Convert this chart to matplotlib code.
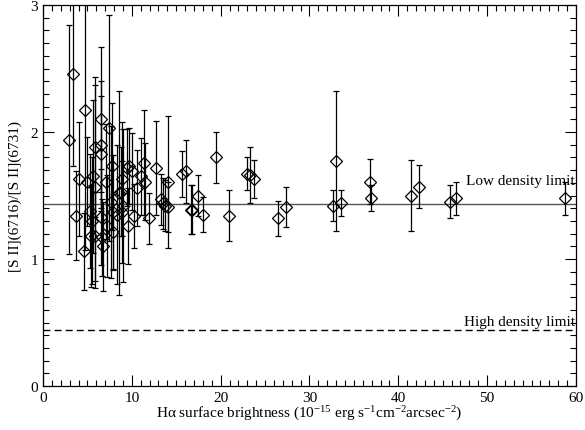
import matplotlib
matplotlib.use("Agg")
import matplotlib.pyplot as plt
from matplotlib.ticker import MultipleLocator

plt.rcParams['font.family'] = 'Liberation Serif'
plt.rcParams['mathtext.fontset'] = 'custom'
plt.rcParams['mathtext.rm'] = 'Liberation Serif'
plt.rcParams['mathtext.default'] = 'rm'

# Halpha surface brightness, [SII] ratio and its error
sb = [2.93, 3.41, 3.68, 4.09, 4.58, 4.69, 5.00, 5.29, 5.37, 5.55,
      5.67, 5.82, 5.89, 5.89, 6.49, 6.49, 6.49, 6.49, 6.60, 6.79,
      7.09, 7.17, 7.47, 7.62, 7.73, 7.84, 7.92, 8.29, 8.59, 8.78,
      8.93, 8.93, 9.04, 9.42, 9.53, 9.68, 9.98, 10.24, 10.54, 11.03,
      11.41, 11.48, 11.97, 12.69, 13.28, 13.47, 13.73, 14.11, 14.11, 15.6,
      16.06, 16.66, 16.8, 17.49, 18.05, 19.44, 20.98, 23.0, 23.3, 23.8,
      26.5, 27.4, 32.7, 33.0, 33.6, 36.8, 36.9, 41.4, 42.3, 45.8,
      46.5, 58.8]
ratio = [1.94, 2.46, 1.34, 1.63, 1.06, 2.17, 1.61, 1.38, 1.18, 1.30,
         1.65, 1.88, 1.57, 1.18, 2.10, 1.90, 1.83, 1.33, 1.17, 1.10,
         1.61, 1.26, 2.03, 1.45, 1.73, 1.37, 1.21, 1.35, 1.52, 1.53,
         1.63, 1.37, 1.42, 1.72, 1.26, 1.73, 1.69, 1.34, 1.56, 1.65,
         1.76, 1.61, 1.32, 1.72, 1.47, 1.44, 1.42, 1.41, 1.61, 1.67,
         1.69, 1.39, 1.39, 1.50, 1.35, 1.80, 1.34, 1.67, 1.66, 1.63,
         1.32, 1.41, 1.42, 1.77, 1.44, 1.61, 1.48, 1.50, 1.57, 1.45,
         1.48, 1.48]
err = [0.90, 0.73, 0.35, 0.45, 0.30, 1.10, 0.35, 0.45, 0.40, 0.50,
       0.60, 0.55, 0.80, 0.35, 0.57, 0.50, 0.45, 0.38, 0.30, 0.35,
       0.45, 0.40, 0.89, 0.60, 0.50, 0.45, 0.30, 0.55, 0.80, 0.35,
       0.45, 0.40, 0.60, 0.30, 0.30, 0.30, 0.30, 0.25, 0.30, 0.30,
       0.41, 0.30, 0.20, 0.37, 0.20, 0.20, 0.20, 0.20, 0.52, 0.18,
       0.25, 0.19, 0.19, 0.16, 0.14, 0.20, 0.20, 0.13, 0.22, 0.15,
       0.14, 0.16, 0.12, 0.55, 0.10, 0.18, 0.10, 0.28, 0.17, 0.13,
       0.13, 0.13]

low_limit = 1.43
high_limit = 0.44

fig = plt.figure(figsize=(5.85, 4.31), dpi=100)
ax = fig.add_axes([0.0735, 0.102, 0.911, 0.884])

ax.errorbar(sb, ratio, yerr=err, fmt='D', ms=6.3, mfc='none', mec='black',
            mew=0.9, ecolor='black', elinewidth=0.9, capsize=2.5, capthick=0.9,
            zorder=3)

ax.axhline(low_limit, color='#555555', lw=1.0)
ax.axhline(high_limit, color='black', lw=1.0, ls=(0, (5, 3)))
ax.text(59.9, 1.62, 'Low density limit', ha='right', va='center', fontsize=11)
ax.text(59.9, 0.51, 'High density limit', ha='right', va='center', fontsize=11)

ax.set_xlim(0, 60)
ax.set_ylim(0, 3)
ax.xaxis.set_major_locator(MultipleLocator(10))
ax.xaxis.set_minor_locator(MultipleLocator(1))
ax.yaxis.set_major_locator(MultipleLocator(1))
ax.yaxis.set_minor_locator(MultipleLocator(0.1))
ax.tick_params(which='both', direction='in', top=True, right=True, labelsize=11)
ax.tick_params(which='major', length=8, width=0.8)
ax.tick_params(which='minor', length=4, width=0.8)
for s in ax.spines.values():
    s.set_linewidth(0.9)

ax.set_xlabel(r'H$\alpha$ surface brightness (10$^{-15}$ erg s$^{-1}$cm$^{-2}$arcsec$^{-2}$)',
              fontsize=11, labelpad=0)
ax.set_ylabel('[S II](6716)/[S II](6731)', fontsize=11, labelpad=6)

fig.savefig('out.png', dpi=100)
